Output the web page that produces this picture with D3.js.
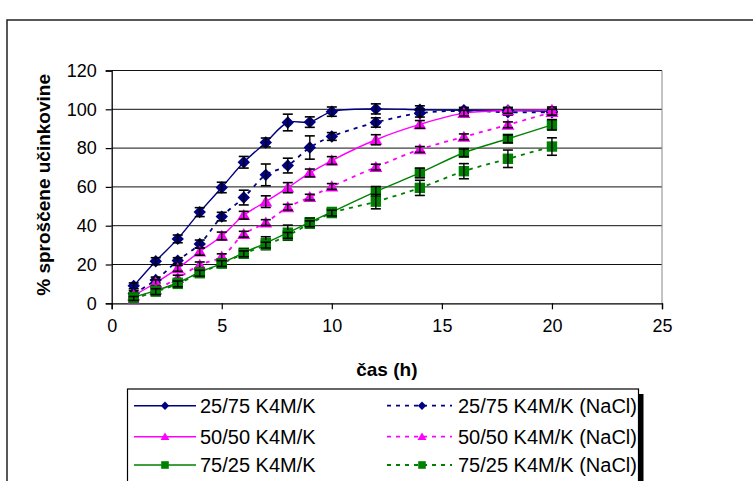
<!DOCTYPE html>
<html>
<head>
<meta charset="utf-8">
<script src="https://cdn.jsdelivr.net/npm/d3@7"></script>
<style>
  html, body { margin: 0; padding: 0; background: #fff; }
  svg { display: block; font-family: "Liberation Sans", Arial, sans-serif; }
</style>
</head>
<body>
<svg id="chart" width="753" height="481"></svg>
<script>
// Release profiles: time points (h) and % released, with standard deviations
const hours = [1, 2, 3, 4, 5, 6, 7, 8, 9, 10, 12, 14, 16, 18, 20];

const s2575 = [9, 21.7, 33.2, 47, 59.7, 72.7, 82.9, 93.2, 93.4, 98.8, 100.2, 99.8, 99.5, 99.4, 99];
const e2575 = [1.5, 1.8, 2, 2.3, 2.7, 3, 2.3, 4.3, 2.7, 2.4, 2.6, 2, 1.5, 1.5, 1.5];

const s2575n = [5, 12, 22, 30.6, 44.7, 54.5, 66.2, 71, 80.3, 86, 93.2, 98, 99.2, 98.5, 98.5];
const e2575n = [1.5, 1.5, 1.5, 2, 2.2, 3.8, 5.6, 3.8, 6, 2, 2.4, 2, 1.5, 1.5, 1.5];

const s5050 = [4, 10.6, 18, 26.6, 34.7, 45.4, 52.4, 59.6, 67.2, 73.6, 84.3, 92.2, 98, 99.4, 99.7];
const e5050 = [1.5, 1.5, 1.5, 1.8, 2, 2, 3, 2.6, 2, 2, 2.6, 2, 1.5, 1.5, 1.5];

const s5050n = [2, 7, 13, 19.8, 24, 35.6, 41.6, 49.5, 54.7, 60.2, 70.2, 79.3, 85.8, 92, 98.5];
const e5050n = [1, 1.5, 1.5, 1.5, 1.5, 1.5, 1.5, 1.5, 1.5, 1.5, 1.5, 1.5, 1.5, 1.5, 1.5];

const s7525 = [3.1, 6.5, 10.6, 16, 20.6, 26.1, 31, 36.4, 41.8, 47.1, 57.6, 67.2, 77.6, 84.8, 92];
const e7525 = [1.5, 1.5, 1.5, 1.5, 2, 2, 3.3, 3.9, 2, 1.5, 2.6, 2.5, 2, 2, 2.7];

const s7525n = [2.5, 6, 10, 15.5, 20.5, 25.5, 30, 35, 41, 46.5, 52.4, 59.5, 68.1, 74.5, 80.8];
const e7525n = [1, 1.5, 1.5, 1.5, 1.5, 1.5, 1.5, 1.5, 1.5, 1.5, 3.7, 3.9, 3.9, 4.5, 4.5];

const seriesNames = [
  "25/75 K4M/K", "25/75 K4M/K (NaCl)",
  "50/50 K4M/K", "50/50 K4M/K (NaCl)",
  "75/25 K4M/K", "75/25 K4M/K (NaCl)"
];

const xTicks = [0, 5, 10, 15, 20, 25];
const yTicks = [0, 20, 40, 60, 80, 100, 120];
const xTitle = "čas (h)";
const yTitle = "% sproščene učinkovine";

const NAVY = "#000080", MAGENTA = "#FF00FF", GREEN = "#008000";

const series = [
  { name: seriesNames[0], values: s2575,  err: e2575,  color: NAVY,    shape: "diamond",  dashed: false },
  { name: seriesNames[1], values: s2575n, err: e2575n, color: NAVY,    shape: "diamond",  dashed: true  },
  { name: seriesNames[2], values: s5050,  err: e5050,  color: MAGENTA, shape: "triangle", dashed: false },
  { name: seriesNames[3], values: s5050n, err: e5050n, color: MAGENTA, shape: "triangle", dashed: true  },
  { name: seriesNames[4], values: s7525,  err: e7525,  color: GREEN,   shape: "square",   dashed: false },
  { name: seriesNames[5], values: s7525n, err: e7525n, color: GREEN,   shape: "square",   dashed: true  }
];

const svg = d3.select("#chart");

// chart area frame
svg.append("rect")
  .attr("x", 7).attr("y", 20).attr("width", 800).attr("height", 500)
  .attr("fill", "#fff").attr("stroke", "#222").attr("stroke-width", 1.5);

const plot = { left: 111.7, right: 662, top: 70.5, bottom: 303.3 };

const x = d3.scaleLinear().domain([0, 25]).range([plot.left, plot.right]);
const y = d3.scaleLinear().domain([0, 120]).range([plot.bottom, plot.top]);

// horizontal gridlines
svg.append("g")
  .selectAll("line")
  .data(yTicks.filter(v => v > 0))
  .join("line")
  .attr("x1", plot.left).attr("x2", plot.right)
  .attr("y1", d => y(d)).attr("y2", d => y(d))
  .attr("stroke", "#111").attr("stroke-width", 1);

// plot area right border
svg.append("line")
  .attr("x1", plot.right).attr("x2", plot.right)
  .attr("y1", plot.top).attr("y2", plot.bottom)
  .attr("stroke", "#888").attr("stroke-width", 1);

// axes
const xAxis = d3.axisBottom(x).tickValues(xTicks).tickSize(6).tickPadding(10).tickFormat(d3.format("d"));
const yAxis = d3.axisLeft(y).tickValues(yTicks).tickSize(6).tickPadding(9).tickFormat(d3.format("d"));

const gx = svg.append("g").attr("transform", `translate(0,${plot.bottom})`).call(xAxis);
const gy = svg.append("g").attr("transform", `translate(${plot.left},0)`).call(yAxis);

[gx, gy].forEach(g => {
  g.select(".domain").attr("stroke", "#000").attr("stroke-width", 1.3);
  g.selectAll(".tick line").attr("stroke", "#000").attr("stroke-width", 1.2);
  g.selectAll(".tick text")
    .attr("fill", "#000")
    .style("font-size", "18px")
    .style("font-family", '"Liberation Sans", Arial, sans-serif');
});

// axis titles
svg.append("text")
  .attr("x", (plot.left + plot.right) / 2).attr("y", 376)
  .attr("text-anchor", "middle")
  .style("font-size", "19px").style("font-weight", "bold")
  .text(xTitle);

svg.append("text")
  .attr("transform", `translate(50,${(plot.top + plot.bottom) / 2 - 2}) rotate(-90)`)
  .attr("text-anchor", "middle")
  .style("font-size", "19px").style("font-weight", "bold")
  .text(yTitle);

// marker shapes
function markerPath(shape, s) {
  if (shape === "diamond") return `M0,${-s}L${s},0L0,${s}L${-s},0Z`;
  if (shape === "triangle") return `M0,${-s * 0.95}L${s},${s * 0.75}L${-s},${s * 0.75}Z`;
  return `M${-s},${-s}H${s}V${s}H${-s}Z`;
}
const plotSize = { diamond: 6.2, triangle: 6.5, square: 5.2 };

const line = d3.line()
  .x((d, i) => x(hours[i]))
  .y(d => y(d))
  .curve(d3.curveCatmullRom.alpha(0.5));

// lines
const gLines = svg.append("g");
series.forEach(s => {
  gLines.append("path")
    .attr("d", line(s.values))
    .attr("fill", "none")
    .attr("stroke", s.color)
    .attr("stroke-width", s.dashed ? 1.8 : 1.4)
    .attr("stroke-dasharray", s.dashed ? "4,5" : null);
});

// markers with error bars
series.forEach(s => {
  const g = svg.append("g");
  g.selectAll("path.m")
    .data(s.values)
    .join("path")
    .attr("class", "m")
    .attr("transform", (d, i) => `translate(${x(hours[i])},${y(d)})`)
    .attr("d", markerPath(s.shape, plotSize[s.shape]))
    .attr("fill", s.color);

  const eb = g.selectAll("g.eb")
    .data(s.values.map((v, i) => ({ v, e: s.err[i], h: hours[i] })))
    .join("g").attr("class", "eb");
  eb.append("line")
    .attr("x1", d => x(d.h)).attr("x2", d => x(d.h))
    .attr("y1", d => y(d.v - d.e)).attr("y2", d => y(d.v + d.e))
    .attr("stroke", "#000").attr("stroke-width", 1.4);
  [-1, 1].forEach(sign => {
    eb.append("line")
      .attr("x1", d => x(d.h) - 5).attr("x2", d => x(d.h) + 5)
      .attr("y1", d => y(d.v + sign * d.e)).attr("y2", d => y(d.v + sign * d.e))
      .attr("stroke", "#000").attr("stroke-width", 1.6);
  });
});

// legend
const legend = { left: 127.5, top: 389, right: 638.5 };
svg.append("rect")
  .attr("x", legend.right).attr("y", legend.top + 5)
  .attr("width", 5).attr("height", 120)
  .attr("fill", "#000");
svg.append("rect")
  .attr("x", legend.left).attr("y", legend.top)
  .attr("width", legend.right - legend.left).attr("height", 120)
  .attr("fill", "#fff").attr("stroke", "#000").attr("stroke-width", 1.2);

const rowsY = [405.7, 436.7, 465];
const cols = [
  { x1: 134, x2: 196, mx: 165, tx: 200 },
  { x1: 387, x2: 452, mx: 422, tx: 458 }
];
const legendSize = { diamond: 4.2, triangle: 4.5, square: 3.8 };

series.forEach((s, i) => {
  const c = cols[i % 2];
  const ry = rowsY[Math.floor(i / 2)];
  const g = svg.append("g");
  g.append("line")
    .attr("x1", c.x1).attr("x2", c.x2).attr("y1", ry).attr("y2", ry)
    .attr("stroke", s.color)
    .attr("stroke-width", s.dashed ? 1.8 : 1.4)
    .attr("stroke-dasharray", s.dashed ? "4,5" : null);
  g.append("path")
    .attr("transform", `translate(${c.mx},${ry})`)
    .attr("d", markerPath(s.shape, legendSize[s.shape]))
    .attr("fill", s.color);
  g.append("text")
    .attr("x", c.tx).attr("y", ry + 7)
    .style("font-size", "20px")
    .text(s.name);
});
</script>
</body>
</html>
